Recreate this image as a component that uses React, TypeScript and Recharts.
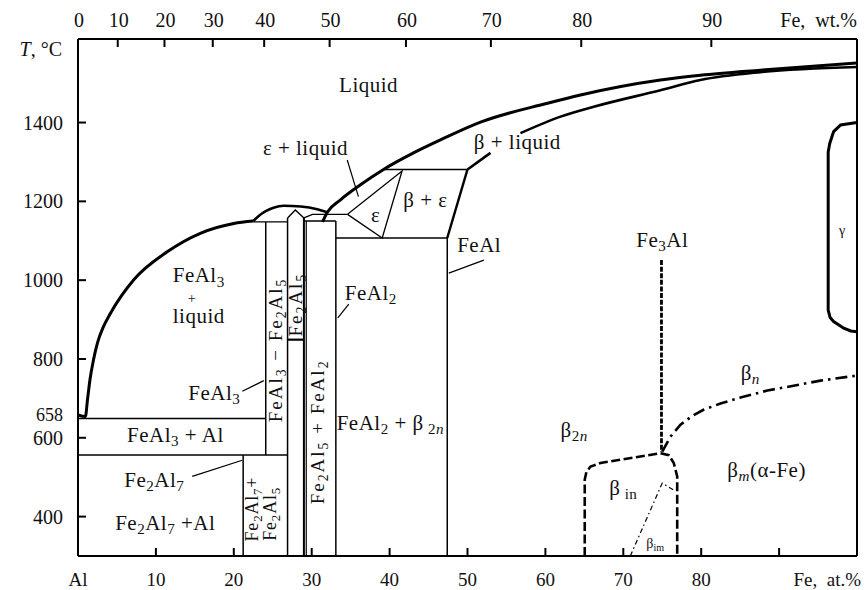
import React from 'react';
import { ComposedChart, Line, XAxis, YAxis, Scatter, ReferenceLine } from 'recharts';

type Pt = { x: number; t: number };
type Seg = [string, string?];
type Lab = { x: number; t: number; s: Seg[] };

// ---------- axis ticks ----------
const atTicks = [0, 10, 20, 30, 40, 50, 60, 70, 80, 90];
const atTickLabels = ['Al', '10', '20', '30', '40', '50', '60', '70', '80', ''];
const wtTickAt = [0, 5.1, 11.1, 17.3, 23.9, 32.3, 42.1, 53.0, 64.6, 81.3];
const wtTickLabels = ['0', '10', '20', '30', '40', '50', '60', '70', '80', '90'];
const tempTicks = [400, 600, 658, 800, 1000, 1200, 1400];

// ---------- phase boundaries (x = at.% Fe, t = °C) ----------
const liquidusAl: Pt[] = [
  { x: 0, t: 658 }, { x: 0.95, t: 654 }, { x: 1.22, t: 697 }, { x: 1.54, t: 748 }, { x: 1.99, t: 798 },
  { x: 2.5, t: 841 }, { x: 3.27, t: 882 }, { x: 4.17, t: 916 }, { x: 7.16, t: 1001 }, { x: 11.45, t: 1072 },
  { x: 15.7, t: 1119 }, { x: 20.0, t: 1144 }, { x: 22.5, t: 1150 },
];
const fe2al5Dome: Pt[] = [
  { x: 22.5, t: 1150 }, { x: 23.2, t: 1163 }, { x: 24.1, t: 1175 }, { x: 25.1, t: 1184 }, { x: 26.4, t: 1189 },
  { x: 28.6, t: 1187 }, { x: 30.7, t: 1180 }, { x: 32.0, t: 1172 },
];
const liquidusMain: Pt[] = [
  { x: 31.39, t: 1148 }, { x: 32.03, t: 1173 }, { x: 33.7, t: 1204 }, { x: 36.26, t: 1242 }, { x: 39.22, t: 1281 },
  { x: 43.07, t: 1323 }, { x: 46.53, t: 1356 }, { x: 51.67, t: 1401 }, { x: 60.27, t: 1449 }, { x: 64.5, t: 1470 },
  { x: 74.77, t: 1508 }, { x: 79.91, t: 1520 }, { x: 87.6, t: 1533 }, { x: 100, t: 1551 },
];
const betaSolidusLow: Pt[] = [{ x: 50.0, t: 1281 }, { x: 52.95, t: 1323 }];
const betaSolidusHigh: Pt[] = [
  { x: 56.8, t: 1373 }, { x: 61.94, t: 1415 }, { x: 66.2, t: 1440 }, { x: 74.77, t: 1482 },
  { x: 79.9, t: 1508 }, { x: 87.6, t: 1528 }, { x: 100, t: 1541 },
];
const betaEpsBoundary: Pt[] = [{ x: 50.0, t: 1281 }, { x: 47.4, t: 1107 }];
const peritectic1281: Pt[] = [{ x: 39.22, t: 1281 }, { x: 50.0, t: 1281 }];
const epsilonPhase: Pt[] = [{ x: 34.6, t: 1167 }, { x: 41.6, t: 1277 }, { x: 39.05, t: 1107 }, { x: 34.6, t: 1167 }];
const eutectoid1107: Pt[] = [{ x: 33.1, t: 1107 }, { x: 47.4, t: 1107 }];
const feAlLine: Pt[] = [{ x: 47.4, t: 1107 }, { x: 47.4, t: 300 }];
const feAl2Line: Pt[] = [{ x: 33.1, t: 1150 }, { x: 33.1, t: 300 }];
const fe2al5Right2: Pt[] = [{ x: 29.3, t: 1150 }, { x: 29.3, t: 300 }];
const fe2al5Right: Pt[] = [{ x: 29.0, t: 1158 }, { x: 29.0, t: 300 }];
const fe2al5Left: Pt[] = [{ x: 26.9, t: 1158 }, { x: 26.9, t: 300 }];
const fe2al5Peak: Pt[] = [{ x: 26.9, t: 1158 }, { x: 27.9, t: 1178 }, { x: 29.0, t: 1158 }];
const peritectic1167: Pt[] = [{ x: 29.0, t: 1158 }, { x: 30.1, t: 1167 }, { x: 34.6, t: 1167 }];
const top1150: Pt[] = [{ x: 29.0, t: 1150 }, { x: 33.1, t: 1150 }];
const top1148: Pt[] = [{ x: 22.5, t: 1148 }, { x: 26.9, t: 1148 }];
const feAl3Line: Pt[] = [{ x: 24.1, t: 1148 }, { x: 24.1, t: 556 }];
const eutectic650: Pt[] = [{ x: 0, t: 649 }, { x: 24.1, t: 649 }];
const line556: Pt[] = [{ x: 0, t: 556 }, { x: 26.9, t: 556 }];
const fe2al7Line: Pt[] = [{ x: 21.2, t: 556 }, { x: 21.2, t: 300 }];
const fe2al5Step: Pt[] = [{ x: 26.9, t: 849 }, { x: 29.0, t: 849 }];
const fe3AlLine: Pt[] = [{ x: 74.9, t: 1051 }, { x: 74.9, t: 563 }];
const betaIn: Pt[] = [
  { x: 65.05, t: 300 }, { x: 65.05, t: 494 }, { x: 65.27, t: 514 }, { x: 65.8, t: 527 }, { x: 67.07, t: 536 },
  { x: 74.77, t: 561 }, { x: 75.84, t: 556 }, { x: 76.48, t: 536 }, { x: 76.92, t: 502 }, { x: 76.92, t: 300 },
];
const betaN: Pt[] = [
  { x: 75.0, t: 565 }, { x: 76.06, t: 603 }, { x: 77.34, t: 633 }, { x: 78.88, t: 656 }, { x: 80.3, t: 671 },
  { x: 82.47, t: 687 }, { x: 85.04, t: 702 }, { x: 88.5, t: 720 }, { x: 91.85, t: 732 }, { x: 95.31, t: 745 },
  { x: 100, t: 758 },
];
const betaIm: Pt[] = [{ x: 70.9, t: 300 }, { x: 75.0, t: 485 }, { x: 76.4, t: 468 }];
const gammaLoop: Pt[] = [
  { x: 100, t: 1400 }, { x: 97.9, t: 1394 }, { x: 97.0, t: 1377 }, { x: 96.5, t: 1347 }, { x: 96.3, t: 1325 },
  { x: 96.3, t: 924 }, { x: 96.55, t: 905 }, { x: 97.0, t: 895 }, { x: 98.3, t: 878 }, { x: 99.2, t: 871 },
  { x: 100, t: 869 },
];
const leaderEpsLiq: Pt[] = [{ x: 34.56, t: 1305 }, { x: 36.0, t: 1212 }];
const leaderFeAl2: Pt[] = [{ x: 34.76, t: 939 }, { x: 33.35, t: 904 }];
const leaderFeAl: Pt[] = [{ x: 52.1, t: 1051 }, { x: 47.6, t: 1018 }];
const leaderFeAl3: Pt[] = [{ x: 21.1, t: 718 }, { x: 23.85, t: 745 }];
const leaderFe2Al7: Pt[] = [{ x: 14.66, t: 502 }, { x: 21.08, t: 543 }];

// ---------- labels ----------
const phaseLabels: Lab[] = [
  { x: 37.3, t: 1495, s: [['Liquid']] },
  { x: 29.2, t: 1335, s: [['ε + liquid']] },
  { x: 56.4, t: 1351, s: [['β + liquid']] },
  { x: 44.6, t: 1203, s: [['β + ε']] },
  { x: 38.2, t: 1166, s: [['ε']] },
  { x: 37.6, t: 968, s: [['FeAl'], ['2', 's']] },
  { x: 51.5, t: 1089, s: [['FeAl']] },
  { x: 15.5, t: 1012, s: [['FeAl'], ['3', 's']] },
  { x: 15.5, t: 910, s: [['liquid']] },
  { x: 17.5, t: 714, s: [['FeAl'], ['3', 's']] },
  { x: 12.5, t: 608, s: [['FeAl'], ['3', 's'], [' + Al']] },
  { x: 9.8, t: 494, s: [['Fe'], ['2', 's'], ['Al'], ['7', 's']] },
  { x: 11.2, t: 385, s: [['Fe'], ['2', 's'], ['Al'], ['7', 's'], [' +Al']] },
  { x: 40.1, t: 638, s: [['FeAl'], ['2', 's'], [' + β'], [' 2', 's'], ['n', 'si']] },
  { x: 63.7, t: 620, s: [['β'], ['2', 's'], ['n', 'si']] },
  { x: 75.0, t: 1102, s: [['Fe'], ['3', 's'], ['Al']] },
  { x: 86.3, t: 765, s: [['β'], ['n', 'si']] },
  { x: 70.0, t: 473, s: [['β'], [' in', 's']] },
  { x: 88.4, t: 519, s: [['β'], ['m', 'si'], ['(α-Fe)']] },
];
const smallLabels: Lab[] = [
  { x: 74.1, t: 334, s: [['β'], ['im', 's']] },
  { x: 98.1, t: 1127, s: [['γ']] },
  { x: 14.6, t: 956, s: [['+']] },
];
const verticalLabels: Lab[] = [
  { x: 25.3, t: 823, s: [['FeAl'], ['3', 's'], [' − Fe'], ['2', 's'], ['Al'], ['5', 's']] },
  { x: 27.9, t: 938, s: [['Fe'], ['2', 's'], ['Al'], ['5', 's']] },
  { x: 30.7, t: 615, s: [['Fe'], ['2', 's'], ['Al'], ['5', 's'], [' + FeAl'], ['2', 's']] },
];
const verticalSmallLabels: Lab[] = [
  { x: 22.3, t: 419, s: [['Fe'], ['2', 's'], ['Al'], ['7', 's'], ['+']] },
  { x: 24.6, t: 407, s: [['Fe'], ['2', 's'], ['Al'], ['5', 's']] },
];

const font = "'Liberation Serif', 'Times New Roman', Times, serif";
const ink = '#111';

function Rich(props: { x: number; y: number; segs: Seg[]; size: number; rotate?: boolean; spacing?: number }) {
  const { x, y, segs, size, rotate, spacing } = props;
  let shifted = false;
  const shift = size * 0.3;
  const kids = segs.map(([txt, st], i) => {
    const sub = st === 's' || st === 'si';
    let dy = 0;
    if (sub && !shifted) { dy = shift; shifted = true; }
    else if (!sub && shifted) { dy = -shift; shifted = false; }
    return (
      <tspan key={i} dy={dy} fontSize={sub ? size * 0.72 : size}
        fontStyle={st === 'si' || st === 'i' ? 'italic' : 'normal'}>{txt}</tspan>
    );
  });
  return (
    <text x={x} y={y} textAnchor="middle" dominantBaseline="central" fontFamily={font} fill={ink}
      letterSpacing={spacing || 0} style={{ whiteSpace: 'pre' }}
      transform={rotate ? `rotate(-90 ${x} ${y})` : undefined}>{kids}</text>
  );
}

const BottomTick = (p: any) => {
  const { x, y, payload } = p;
  const i = atTicks.indexOf(payload.value);
  return (
    <g>
      {payload.value > 0 && <line x1={x} x2={x} y1={y} y2={y - 8} stroke="#000" strokeWidth={2} />}
      <text x={x} y={y + 23} textAnchor="middle" dominantBaseline="central" fontFamily={font} fontSize={19} fill={ink}>
        {atTickLabels[i] ?? ''}
      </text>
    </g>
  );
};

const TopTick = (p: any) => {
  const { x, y, payload } = p;
  const i = wtTickAt.indexOf(payload.value);
  return (
    <g>
      {payload.value > 0 && <line x1={x} x2={x} y1={y} y2={y + 8} stroke="#000" strokeWidth={2} />}
      <text x={x + 1} y={y - 19} textAnchor="middle" dominantBaseline="central" fontFamily={font} fontSize={20} fill={ink}>
        {wtTickLabels[i] ?? ''}
      </text>
    </g>
  );
};

const LeftTick = (p: any) => {
  const { x, y, payload } = p;
  const v = payload.value;
  const small = v === 658;
  return (
    <g>
      {!small && <line x1={x} x2={x + 8} y1={y} y2={y} stroke="#000" strokeWidth={2} />}
      <text x={x - 15} y={y} textAnchor="end" dominantBaseline="central" fontFamily={font}
        fontSize={small ? 18 : 20} fill={ink}>{v}</text>
    </g>
  );
};

export default function App() {
  const series: { d: Pt[]; w: number; curve?: 'monotone' | 'linear'; dash?: string }[] = [
    { d: liquidusAl, w: 3, curve: 'monotone' },
    { d: fe2al5Dome, w: 2.6, curve: 'monotone' },
    { d: liquidusMain, w: 3, curve: 'monotone' },
    { d: betaSolidusLow, w: 2.6 },
    { d: betaSolidusHigh, w: 2.6, curve: 'monotone' },
    { d: betaEpsBoundary, w: 2.4 },
    { d: peritectic1281, w: 1.4 },
    { d: epsilonPhase, w: 1.3 },
    { d: eutectoid1107, w: 1.4 },
    { d: feAlLine, w: 1.5 },
    { d: feAl2Line, w: 1.5 },
    { d: fe2al5Right2, w: 1.2 },
    { d: fe2al5Right, w: 2 },
    { d: fe2al5Left, w: 1.5 },
    { d: fe2al5Peak, w: 1.4 },
    { d: peritectic1167, w: 1.4 },
    { d: top1150, w: 1.4 },
    { d: top1148, w: 1.4 },
    { d: feAl3Line, w: 1.5 },
    { d: eutectic650, w: 1.5 },
    { d: line556, w: 1.5 },
    { d: fe2al7Line, w: 1.5 },
    { d: fe2al5Step, w: 2.2 },
    { d: gammaLoop, w: 3 },
    { d: fe3AlLine, w: 2.8, dash: '5 1.6' },
    { d: betaIn, w: 2.6, dash: '9 3.5' },
    { d: betaN, w: 2.6, dash: '12 5 2.5 5' },
    { d: betaIm, w: 1.2, dash: '5 3 1.5 3' },
    { d: leaderEpsLiq, w: 1.2 },
    { d: leaderFeAl2, w: 1.2 },
    { d: leaderFeAl, w: 1.2 },
    { d: leaderFeAl3, w: 1.2 },
    { d: leaderFe2Al7, w: 1.2 },
  ];

  return (
    <div style={{ position: 'absolute', left: 0, top: 0, width: 865, height: 590, background: '#fff' }}>
      <ComposedChart width={865} height={590} margin={{ top: 0, right: 8, bottom: 0, left: 0 }}>
        <XAxis xAxisId="b" dataKey="x" type="number" domain={[0, 100]} allowDataOverflow ticks={atTicks}
          interval={0} tickSize={0} tickMargin={0} tick={BottomTick} height={34}
          axisLine={{ stroke: '#000', strokeWidth: 2 }} tickLine={false} />
        <XAxis xAxisId="t" orientation="top" dataKey="x" type="number" domain={[0, 100]} allowDataOverflow
          ticks={wtTickAt} interval={0} tickSize={0} tickMargin={0} tick={TopTick} height={39}
          axisLine={{ stroke: '#000', strokeWidth: 2 }} tickLine={false} />
        <YAxis dataKey="t" type="number" domain={[300, 1612]} allowDataOverflow ticks={tempTicks} interval={0}
          tickSize={0} tickMargin={0} tick={LeftTick} width={78}
          axisLine={{ stroke: '#000', strokeWidth: 2 }} tickLine={false} />
        <ReferenceLine xAxisId="b" x={100} stroke="#000" strokeWidth={2} />
        {series.map((s, i) => (
          <Line key={i} xAxisId="b" data={s.d} dataKey="t" type={s.curve || 'linear'} stroke="#000"
            strokeWidth={s.w} strokeDasharray={s.dash} dot={false} activeDot={false}
            isAnimationActive={false} legendType="none" />
        ))}
        <Line xAxisId="t" data={wtTickAt.map((x) => ({ x, t: 300 }))} dataKey="t" stroke="none" dot={false}
          activeDot={false} isAnimationActive={false} legendType="none" />
        <Scatter xAxisId="b" data={phaseLabels} dataKey="t" isAnimationActive={false}
          shape={(p: any) => <Rich x={p.cx} y={p.cy} segs={p.payload.s} size={21} spacing={0.5} />} />
        <Scatter xAxisId="b" data={smallLabels} dataKey="t" isAnimationActive={false}
          shape={(p: any) => <Rich x={p.cx} y={p.cy} segs={p.payload.s} size={14} />} />
        <Scatter xAxisId="b" data={verticalLabels} dataKey="t" isAnimationActive={false}
          shape={(p: any) => <Rich x={p.cx} y={p.cy} segs={p.payload.s} size={19} rotate spacing={2} />} />
        <Scatter xAxisId="b" data={verticalSmallLabels} dataKey="t" isAnimationActive={false}
          shape={(p: any) => <Rich x={p.cx} y={p.cy} segs={p.payload.s} size={18} rotate spacing={0.8} />} />
      </ComposedChart>
      <svg width={865} height={590} style={{ position: 'absolute', left: 0, top: 0, pointerEvents: 'none' }}>
        <text x={62} y={49} textAnchor="end" dominantBaseline="central" fontFamily={font} fontSize={20} fill={ink}>
          <tspan fontStyle="italic">T</tspan>, °C
        </text>
        <text x={857} y={20} textAnchor="end" dominantBaseline="central" fontFamily={font} fontSize={20} fill={ink}
          style={{ whiteSpace: 'pre' }}>Fe,  wt.%</text>
        <text x={861} y={579} textAnchor="end" dominantBaseline="central" fontFamily={font} fontSize={19} fill={ink}
          style={{ whiteSpace: 'pre' }}>Fe,  at.%</text>
      </svg>
    </div>
  );
}
